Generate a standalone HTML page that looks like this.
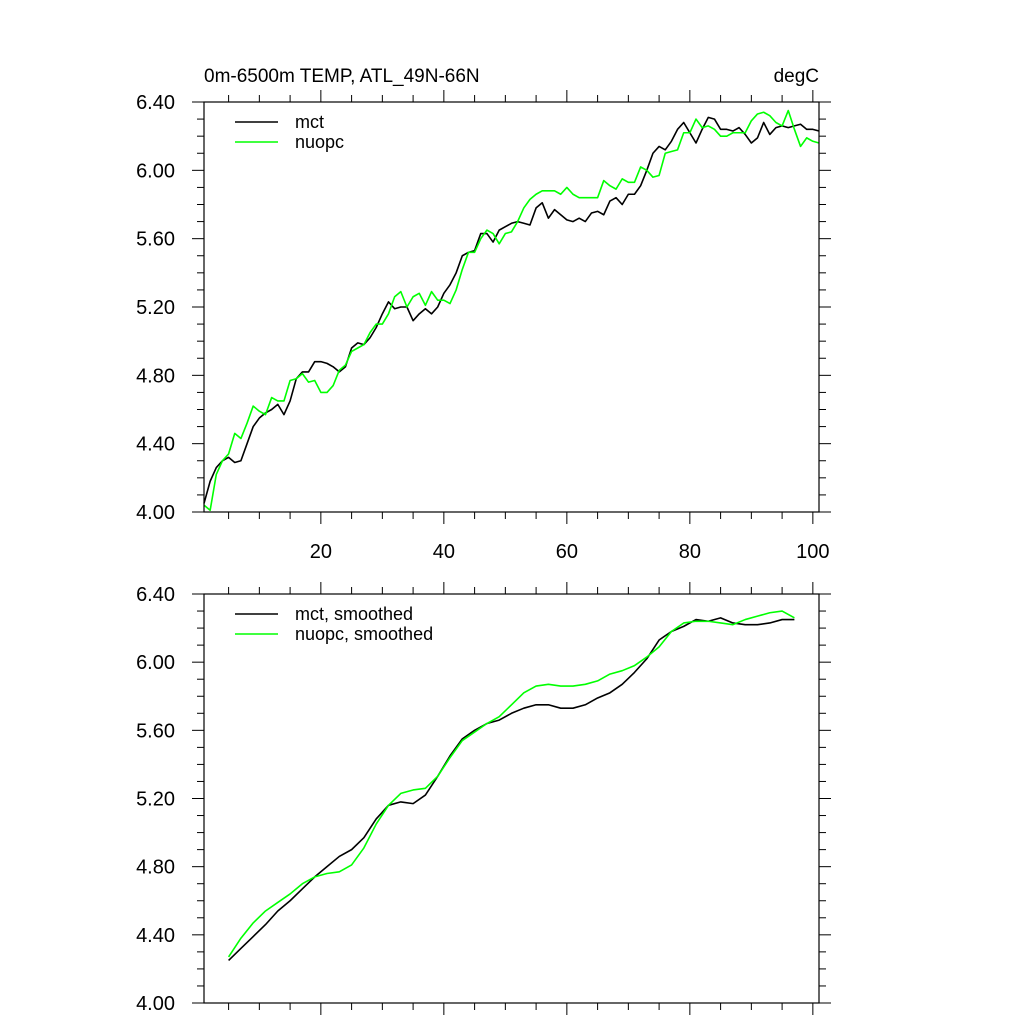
<!DOCTYPE html>
<html><head><meta charset="utf-8"><style>
html,body{margin:0;padding:0;background:#fff;width:1024px;height:1024px;overflow:hidden}
svg text{font-family:"Liberation Sans",Arial,sans-serif}
</style></head><body>
<svg id="c" width="1024" height="1024" xmlns="http://www.w3.org/2000/svg">
<text x="204" y="82" font-size="19">0m-6500m TEMP, ATL_49N-66N</text>
<text x="819" y="82" font-size="19" text-anchor="end">degC</text>
</svg>
<script>
const mct=[4.05,4.18,4.26,4.30,4.32,4.29,4.30,4.40,4.50,4.55,4.58,4.60,4.63,4.57,4.65,4.78,4.82,4.82,4.88,4.88,4.87,4.85,4.82,4.85,4.96,4.99,4.98,5.02,5.08,5.16,5.23,5.19,5.20,5.20,5.12,5.16,5.19,5.16,5.20,5.28,5.33,5.40,5.50,5.52,5.53,5.63,5.63,5.58,5.65,5.67,5.69,5.70,5.69,5.68,5.78,5.81,5.72,5.77,5.74,5.71,5.70,5.72,5.70,5.75,5.76,5.74,5.82,5.84,5.80,5.86,5.86,5.91,6.00,6.10,6.14,6.12,6.17,6.24,6.28,6.22,6.16,6.24,6.31,6.30,6.24,6.24,6.23,6.25,6.21,6.16,6.19,6.28,6.21,6.25,6.26,6.25,6.26,6.27,6.24,6.24,6.23];
const nuopc=[4.04,4.01,4.22,4.30,4.34,4.46,4.43,4.52,4.62,4.59,4.57,4.67,4.65,4.65,4.77,4.78,4.81,4.76,4.77,4.70,4.70,4.74,4.83,4.86,4.94,4.96,4.98,5.05,5.10,5.10,5.16,5.26,5.29,5.20,5.26,5.28,5.21,5.29,5.24,5.24,5.22,5.30,5.42,5.52,5.52,5.60,5.65,5.63,5.57,5.63,5.64,5.70,5.78,5.83,5.86,5.88,5.88,5.88,5.86,5.90,5.86,5.84,5.84,5.84,5.84,5.94,5.91,5.89,5.95,5.93,5.93,6.02,6.00,5.96,5.97,6.10,6.11,6.12,6.22,6.22,6.30,6.25,6.26,6.24,6.20,6.20,6.22,6.22,6.22,6.29,6.33,6.34,6.32,6.28,6.26,6.35,6.24,6.14,6.19,6.17,6.16];
const smoothYears=[5,7,9,11,13,15,17,19,21,23,25,27,29,31,33,35,37,39,41,43,45,47,49,51,53,55,57,59,61,63,65,67,69,71,73,75,77,79,81,83,85,87,89,91,93,95,97];
const mctSmooth=[4.25,4.32,4.39,4.46,4.54,4.60,4.67,4.74,4.80,4.86,4.90,4.97,5.08,5.16,5.18,5.17,5.22,5.33,5.45,5.55,5.60,5.64,5.66,5.70,5.73,5.75,5.75,5.73,5.73,5.75,5.79,5.82,5.87,5.94,6.02,6.13,6.18,6.21,6.25,6.24,6.26,6.23,6.22,6.22,6.23,6.25,6.25];
const nuopcSmooth=[4.27,4.38,4.47,4.54,4.59,4.64,4.70,4.74,4.76,4.77,4.81,4.91,5.05,5.16,5.23,5.25,5.26,5.33,5.44,5.54,5.59,5.64,5.68,5.75,5.82,5.86,5.87,5.86,5.86,5.87,5.89,5.93,5.95,5.98,6.03,6.09,6.18,6.23,6.24,6.24,6.23,6.22,6.25,6.27,6.29,6.30,6.26];
const yTicks=[4.00,4.40,4.80,5.20,5.60,6.00,6.40];
const xTicks=[20,40,60,80,100];

const svg=document.getElementById('c');
const NS='http://www.w3.org/2000/svg';
const L=204,R=819,XMIN=1,XMAX=101,YMIN=4,YMAX=6.4;
function mk(tag,attrs,parent){const e=document.createElementNS(NS,tag);for(const k in attrs)e.setAttribute(k,attrs[k]);(parent||svg).appendChild(e);return e;}
const xs=x=>L+(x-XMIN)*(R-L)/(XMAX-XMIN);

function panel(top,bottom,showXLabels,series,legend,name){
  const g=mk('g',{});
  
  
  const ys=v=>bottom-(v-YMIN)*(bottom-top)/(YMAX-YMIN);
  for(let x=5;x<=XMAX;x+=5){
    const major=x%20===0, len=major?12:7, px=xs(x);
    const t1=mk('line',{x1:px,x2:px,y1:top,y2:top-len,stroke:'#000','stroke-width':1},g);
    
    
    const t2=mk('line',{x1:px,x2:px,y1:bottom,y2:bottom+len,stroke:'#000','stroke-width':1},g);
    
    
  }
  for(let i=0;i<=24;i++){
    const v=YMIN+i*0.1, major=i%4===0, len=major?12:7, py=ys(v);
    const a=mk('line',{x1:L,x2:L-len,y1:py,y2:py,stroke:'#000','stroke-width':1},g);
    
    
    const b=mk('line',{x1:R,x2:R+len,y1:py,y2:py,stroke:'#000','stroke-width':1},g);
    
    
  }
  yTicks.forEach(v=>{
    const t=mk('text',{x:175,y:ys(v)+7,'font-size':20,'text-anchor':'end'},g);
    
    
    t.textContent=v.toFixed(2);
  });
  if(showXLabels){
    xTicks.forEach(x=>{
      const t=mk('text',{x:xs(x),y:bottom+46,'font-size':20,'text-anchor':'middle'},g);
      
      
      t.textContent=x;
    });
  }
  series.forEach(s=>{
    const pts=s.v.map((v,i)=>xs(s.x[i])+','+ys(v)).join(' ');
    const p=mk('polyline',{points:pts,fill:'none',stroke:s.c,'stroke-width':1.6,'stroke-linejoin':'round'},g);
    
    
  });
  const f=mk('rect',{x:L,y:top,width:R-L,height:bottom-top,fill:'none',stroke:'#000','stroke-width':1.2},g);
  
  
  legend.forEach((e,i)=>{
    const y=top+20+i*20;
    const ln=mk('line',{x1:235,x2:278,y1:y,y2:y,stroke:e.c,'stroke-width':1.6},g);
    
    
    const t=mk('text',{x:295,y:y+6,'font-size':18},g);
    
    
    t.textContent=e.t;
  });
}
const idx=mct.map((_,i)=>i+1);
const idx2=nuopc.map((_,i)=>i+1);
panel(102,512,true,[{x:idx,v:mct,c:'#000',n:'mct-line'},{x:idx2,v:nuopc,c:'#00ff00',n:'nuopc-line'}],[{c:'#000',t:'mct'},{c:'#00ff00',t:'nuopc'}],'raw-panel');
panel(594,1003,false,[{x:smoothYears,v:mctSmooth,c:'#000',n:'mct-smoothed-line'},{x:smoothYears,v:nuopcSmooth,c:'#00ff00',n:'nuopc-smoothed-line'}],[{c:'#000',t:'mct, smoothed'},{c:'#00ff00',t:'nuopc, smoothed'}],'smoothed-panel');
</script>
</body></html>
